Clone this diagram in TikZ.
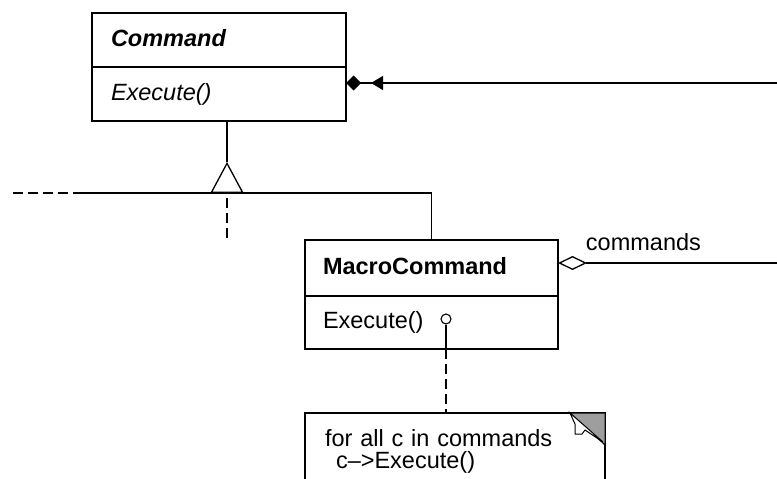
\documentclass[tikz,border=0pt]{standalone}
\usepackage{fontspec}
\setmainfont{Liberation Sans}
\usetikzlibrary{arrows.meta, positioning}

\newcommand{\umlsize}{\fontsize{23.5}{22}\selectfont}

\begin{document}
\begin{tikzpicture}[x=1pt, y=-1pt, line width=1.3pt,
    umlpart/.style={draw, rectangle, outer sep=0pt, inner xsep=0pt, inner ysep=0pt,
                    align=left, text height=17pt, text depth=5pt, font=\umlsize},
    implline/.style={dash pattern=on 10pt off 5pt}]
        \clip (0,0) rectangle (777,479);

        % 1. 抽象类 Command
        \node[umlpart, minimum width=254pt, minimum height=54pt, text width=216pt,
              font=\umlsize\bfseries\itshape] (cmd) at (219,40) {Command};
        \node[umlpart, minimum width=254pt, minimum height=54pt, text width=216pt,
              font=\umlsize\itshape, below=0pt of cmd] (cmdexec) {Execute()};
        \coordinate (invokerend) at (777,83);
        \draw[{Diamond[length=15pt,width=15pt] Triangle[length=12pt,width=14pt,sep=10pt]}-]
            (cmdexec.east |- invokerend) -- (invokerend);

        % 2. 继承关系
        \coordinate (apex) at (227,162);
        \coordinate (tribase) at (227,193);
        \coordinate (barstart) at (77,193);
        \coordinate (otherleft) at (13,193);
        \coordinate (otherdown) at (227,242);
        \draw (apex) -- (apex |- cmdexec.south);
        \draw[-{Triangle[open,length=31pt,width=33pt]}] (tribase) -- (apex);
        \draw[implline] (otherleft) -- (barstart);
        \draw[implline, shorten <=5pt] (tribase) -- (otherdown);

        % 3. MacroCommand
        \node[umlpart, minimum width=253pt, minimum height=56pt, text width=217pt,
              font=\umlsize\bfseries] (macro) at (431.5,268) {MacroCommand};
        \node[umlpart, minimum width=253pt, minimum height=53pt, text width=217pt,
              below=0pt of macro] (macroexec) {Execute()};
        \draw (barstart) -| (macro.north);
        \coordinate (listend) at (777,263);
        \draw[{Diamond[open,length=29pt,width=14pt]}-] (macro.east |- listend) -- (listend);
        \node[anchor=base west, font=\umlsize] (cmdslabel) at (582,250) {commands};

        % 4. 注释
        \node[circle, draw, inner sep=0pt, minimum size=10pt, line width=1.1pt] (pin) at (446,319) {};
        \node[umlpart, anchor=north west, minimum width=300pt,
              text width=260pt, inner ysep=16pt, text height=, text depth=] (note) at (305,413)
              {for all c in commands\\\hspace*{11pt}c\textendash>Execute()\rule[-24pt]{0pt}{24pt}};
        \draw (pin.south) -- (pin |- macroexec.south);
        \draw[implline] (pin |- macroexec.south) -- (pin |- note.north);
        \begin{scope}[shift={(note.north east)}, line width=1pt]
            \filldraw[fill=black!38] (-35,0) -- (0,0) -- (0,32) -- cycle;
            \draw[fill=white] (-35,0) -- (-30,11) -- (-30,21) -- (-23,21) -- (-20,17) -- (-2,29) -- cycle;
        \end{scope}
    \end{tikzpicture}
\end{document}
